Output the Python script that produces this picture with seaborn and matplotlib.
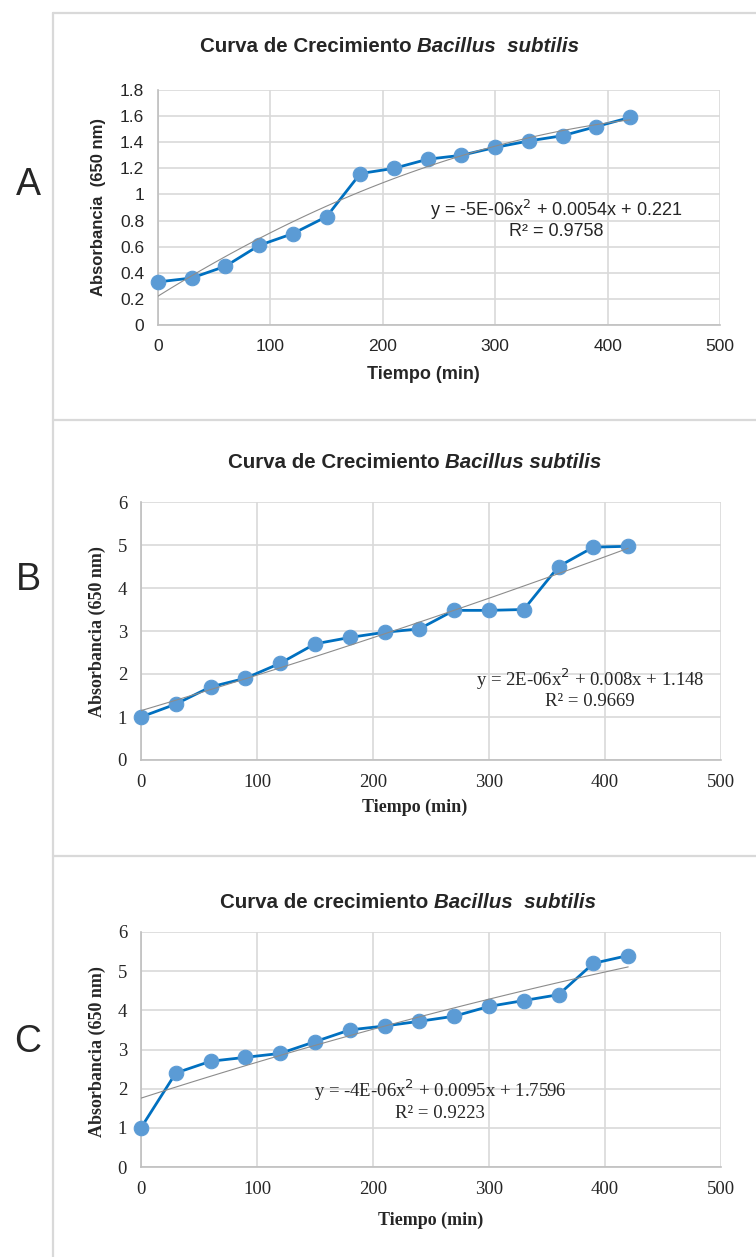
import matplotlib
matplotlib.use("Agg")
import matplotlib.pyplot as plt
import seaborn as sns
import pandas as pd
from matplotlib.lines import Line2D

# Data
tiempo = [0, 30, 60, 90, 120, 150, 180, 210, 240, 270, 300, 330, 360, 390, 420]
abs_a = [0.33, 0.36, 0.45, 0.61, 0.70, 0.83, 1.16, 1.20, 1.27, 1.30, 1.36, 1.41, 1.45, 1.52, 1.59]
abs_b = [1.00, 1.30, 1.70, 1.90, 2.25, 2.70, 2.85, 2.97, 3.05, 3.48, 3.48, 3.50, 4.50, 4.95, 4.97]
abs_c = [1.00, 2.40, 2.70, 2.80, 2.90, 3.20, 3.50, 3.60, 3.72, 3.85, 4.10, 4.25, 4.40, 5.20, 5.40]

yticks_a = [0, 0.2, 0.4, 0.6, 0.8, 1, 1.2, 1.4, 1.6, 1.8]
yticks_bc = [0, 1, 2, 3, 4, 5, 6]
xticks = [0, 100, 200, 300, 400, 500]

eq_a = "y = -5E-06x$^2$ + 0.0054x + 0.221\nR² = 0.9758"
eq_b = "y = 2E-06x$^2$ + 0.008x + 1.148\nR² = 0.9669"
eq_c = "y = -4E-06x$^2$ + 0.0095x + 1.7596\nR² = 0.9223"

sns.set_style("white")
plt.rcParams["font.family"] = ["Liberation Sans", "DejaVu Sans"]

W, H = 756, 1257
fig = plt.figure(figsize=(W / 100, H / 100), dpi=100)


def px_axes(left, right, top, bottom):
    return fig.add_axes([left / W, 1 - bottom / H, (right - left) / W, (bottom - top) / H])


MARK = "#5B9BD5"
LINE = "#0070C0"
GRID = "#D9D9D9"


def panel(ax, y, yticks, ymax, serif, ylab, title1, title2, title_x, title_y,
          eq, eq_xy, xlab_pos, ylab_pos):
    df = pd.DataFrame({"t": tiempo, "a": y})
    sns.lineplot(data=df, x="t", y="a", ax=ax, color=LINE, lw=2.0, marker="o",
                 markersize=10.5, markerfacecolor=MARK, markeredgecolor=MARK,
                 zorder=3, clip_on=False)
    sns.regplot(data=df, x="t", y="a", ax=ax, order=2, ci=None, scatter=False,
                line_kws={"color": "#8C8C8C", "lw": 0.8, "zorder": 4})
    ax.set_xlim(0, 500)
    ax.set_ylim(0, ymax)
    ax.set_xticks(xticks)
    ax.set_yticks(yticks)
    ax.set_yticklabels([f"{v:g}" for v in yticks])
    ax.grid(True, color=GRID, lw=1.2)
    ax.set_axisbelow(True)
    for s in ["top", "right"]:
        ax.spines[s].set_visible(False)
    for s in ["left", "bottom"]:
        ax.spines[s].set_color("#BFBFBF")
        ax.spines[s].set_linewidth(1.2)
    ax.tick_params(axis="both", length=4, color="#BFBFBF", width=1.2, pad=6)
    fam = ["Liberation Serif"] if serif else ["Liberation Sans"]
    tsize = 13.5 if serif else 12.5
    for lab in ax.get_xticklabels() + ax.get_yticklabels():
        lab.set_family(fam)
        lab.set_fontsize(tsize)
        lab.set_color("#262626")
    ax.set_xlabel("Tiempo (min)", family=fam, fontsize=13, fontweight="bold")
    ax.set_ylabel(ylab, family=fam, fontsize=13 if serif else 12, fontweight="bold")
    ax.xaxis.set_label_coords(*xlab_pos)
    ax.yaxis.set_label_coords(*ylab_pos)
    ax.text(eq_xy[0], eq_xy[1], eq, ha="center", va="center", family=fam,
            fontsize=13.5 if serif else 13, linespacing=1.1, zorder=5)
    t1 = fig.text(title_x / W, 1 - title_y / H, title1, fontsize=14.8, fontweight="bold",
                  ha="left", va="center")
    fig.canvas.draw()
    ax.annotate(title2, xy=(1, 0), xycoords=t1, xytext=(0, 0), textcoords="offset points",
                fontsize=14.8, fontweight="bold", style="italic", ha="left", va="bottom")


ax_a = px_axes(158, 720, 90, 325)
panel(ax_a, abs_a, yticks_a, 1.8, False, "Absorbancia  (650 nm)",
      "Curva de Crecimiento ", "Bacillus  subtilis", 200, 47,
      eq_a, (354, 0.81), (0.473, -0.174), (-0.092, 0.5))

ax_b = px_axes(141, 721, 502, 760)
panel(ax_b, abs_b, yticks_bc, 6, True, "Absorbancia (650 nm)",
      "Curva de Crecimiento ", "Bacillus subtilis", 228, 463,
      eq_b, (387, 1.67), (0.472, -0.151), (-0.061, 0.496))

ax_c = px_axes(141, 721, 932, 1167)
panel(ax_c, abs_c, yticks_bc, 6, True, "Absorbancia (650 nm)",
      "Curva de crecimiento ", "Bacillus  subtilis", 220, 902,
      eq_c, (258, 1.72), (0.50, -0.191), (-0.061, 0.49))

# panel letters
for letter, yy in [("A", 185), ("B", 580), ("C", 1042)]:
    fig.text(28 / W, 1 - yy / H, letter, fontsize=27, ha="center", va="center",
             family=["Liberation Sans"])

# panel frame lines
frame = dict(color="#D9D9D9", lw=1.6, transform=fig.transFigure)
fig.add_artist(Line2D([53 / W, 53 / W], [1 - 13 / H, 0], **frame))
fig.add_artist(Line2D([53 / W, 1], [1 - 13 / H, 1 - 13 / H], **frame))
fig.add_artist(Line2D([53 / W, 1], [1 - 420 / H, 1 - 420 / H], **frame))
fig.add_artist(Line2D([53 / W, 1], [1 - 856 / H, 1 - 856 / H], **frame))

fig.savefig("out.png", dpi=100, facecolor="white")
